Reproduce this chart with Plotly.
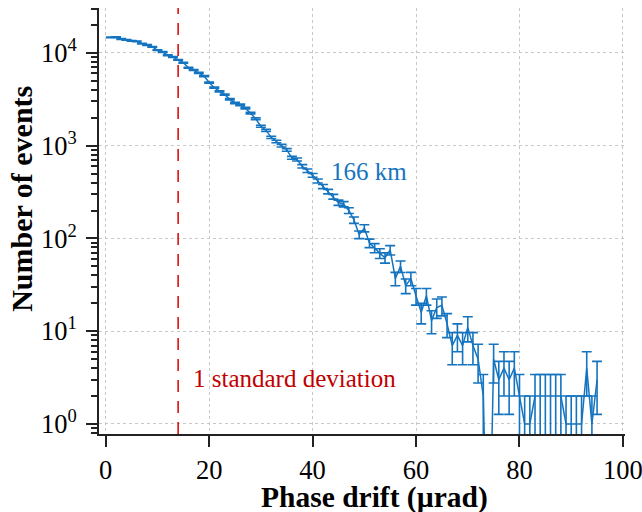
import math
import plotly.graph_objects as go

# ---- data ----
drift_urad = list(range(1, 96))
events = [
    14720, 14790, 14125, 13800, 13490, 13335, 12590, 12160, 11610, 10715,
    10230, 9440, 9015, 8410, 7850, 6920, 6530, 6095, 5620, 4790,
    4220, 3845, 3550, 3160, 2885, 2755, 2540, 2240, 1950, 1620,
    1460, 1230, 1110, 1000, 900, 740, 710, 600, 537, 479,
    417, 363, 320, 282, 243, 234, 200, 158, 110, 129,
    89, 79, 69, 62, 75, 37, 50, 31, 37, 24,
    16, 24, 13, 18, 19, 12, 7, 9, 7, 11,
    7, 5, 2, 0, 5, 3, 4, 3, 4, 2,
    1, 1, 2, 2, 2, 2, 2, 2, 1, 1,
    1, 1, 4, 1, 3,
]
std_dev_urad = 14
x_ticks = [0, 20, 40, 60, 80, 100]
y_tick_vals = [1, 10, 100, 1000, 10000]
y_tick_text = ["10<sup>0</sup>", "10<sup>1</sup>", "10<sup>2</sup>", "10<sup>3</sup>", "10<sup>4</sup>"]
x_title = "Phase drift (µrad)"
y_title = "Number of events"
series_label = "166 km"
line_label = "1 standard deviation"

BLUE = "#1474c0"
RED = "#dd1111"
DARKRED = "#c00000"
FONT = "Liberation Serif"

# zero counts cannot sit on a log axis: draw them below the visible range (clipped)
y_plot = [v if v > 0 else 1e-2 for v in events]
y_err = [math.sqrt(v) for v in events]

minor_vals = [m * 10 ** k for k in range(-1, 5) for m in range(2, 10)]

fig = go.Figure()
fig.add_trace(go.Scatter(
    x=drift_urad, y=y_plot, mode="lines",
    line=dict(color=BLUE, width=1.5),
    error_y=dict(type="data", array=y_err, symmetric=True,
                 color=BLUE, thickness=1.6, width=5),
    showlegend=False, hoverinfo="skip",
))

fig.add_shape(type="line", xref="x", yref="paper",
              x0=std_dev_urad, x1=std_dev_urad, y0=0, y1=1,
              line=dict(color=RED, width=1.6, dash="12px,9px"))

fig.add_annotation(x=16.4, y=math.log10(3.06), xref="x", yref="y",
                   text=line_label, showarrow=False, xanchor="left",
                   font=dict(family=FONT, size=25, color=DARKRED))
fig.add_annotation(x=43.2, y=math.log10(525), xref="x", yref="y",
                   text=series_label, showarrow=False, xanchor="left",
                   font=dict(family=FONT, size=25, color=BLUE))

# axis titles (placed as in the reference, slightly off-centre)
fig.add_annotation(x=0.524, y=-0.148, xref="paper", yref="paper",
                   text="<b>" + x_title + "</b>", showarrow=False,
                   xanchor="center", yanchor="middle",
                   font=dict(family=FONT, size=29.5, color="black"))
fig.add_annotation(x=-0.1464, y=0.552, xref="paper", yref="paper",
                   text="<b>" + y_title + "</b>", showarrow=False, textangle=-90,
                   xanchor="center", yanchor="middle",
                   font=dict(family=FONT, size=30, color="black"))

axis_common = dict(
    showline=True, linecolor="#222", linewidth=2,
    ticks="outside", tickcolor="#222", tickwidth=2,
    showgrid=True, gridcolor="#c8c8c8", griddash="dot", gridwidth=1,
    zeroline=False, mirror=False, automargin=False,
    ticklabeloverflow="allow",
    tickfont=dict(family=FONT, size=26.5, color="black"),
)

fig.update_xaxes(
    **axis_common,
    range=[-1.3, 100.4], tickvals=x_ticks, ticklen=11,
)
fig.update_yaxes(
    **axis_common,
    type="log", range=[-0.108, 4.484],
    tickvals=y_tick_vals, ticktext=y_tick_text, ticklen=11,
    ticklabelstandoff=4,
    minor=dict(tickvals=minor_vals, ticks="outside", ticklen=6,
               tickcolor="#222", tickwidth=1.5, showgrid=False),
)

fig.update_layout(
    width=642, height=512,
    margin=dict(l=99, r=17, t=8, b=78),
    paper_bgcolor="white", plot_bgcolor="white",
    font=dict(family=FONT, color="black"),
)

# remove the browser's default 8px body margin so the 642x512 figure fits the window
fig.write_html("out.html",
               config={"displayModeBar": False},
               post_script="document.body.style.margin='0';document.body.style.overflow='hidden';")
